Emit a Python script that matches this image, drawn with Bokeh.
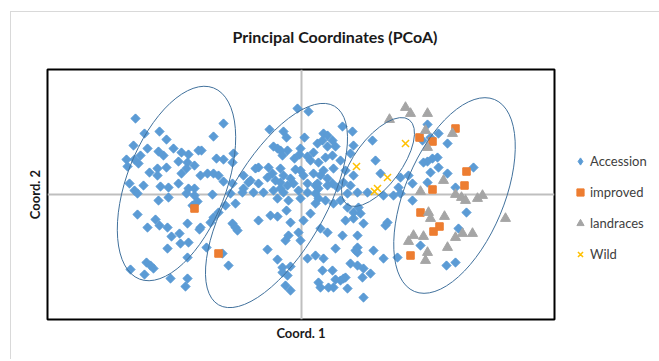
from bokeh.plotting import figure
from bokeh.models import Span, Legend, LegendItem, ColumnDataSource
from bokeh.embed import file_html
from bokeh.resources import INLINE
import math

# ---- data (Coord. 1, Coord. 2) ----
acc_x = [-1.66,-1.57,-1.42,-1.35,-1.68,-1.54,-1.28,-1.20,-1.13,-1.03,-1.75,-1.67,-1.61,-1.63,-1.74,-1.43,-1.38,-1.23,-1.14,-1.07,
         -1.15,-1.44,-1.52,-1.35,-1.44,-1.20,-1.01,-1.72,-1.58,-1.41,-1.33,-1.23,-1.13,-0.94,
         -1.67,-1.64,-1.33,-1.15,-1.07,-1.07,-1.04,-1.09,-1.43,-1.64,-1.46,-1.54,-1.42,-1.34,-1.14,-1.01,-1.02,-1.22,-1.30,-1.21,
         -1.13,-1.34,-0.95,-1.14,-1.55,-1.51,-1.48,-1.71,-1.57,-1.31,-1.14,-1.16,
         -0.78,-0.88,-0.04,0.07,-0.32,-0.18,-0.15,0.03,0.41,0.51,0.22,0.26,0.21,0.31,0.34,0.26,0.16,0.12,-0.28,-0.21,-0.14,-0.24,
         -0.19,-0.01,-0.02,-0.07,0.06,0.09,0.17,0.24,0.31,0.52,0.49,0.39,0.44,0.32,-0.85,-0.78,-0.68,-0.69,-0.88,-0.83,-0.78,-1.00,
         -0.43,-0.46,-0.33,-0.29,-0.21,-0.18,-0.11,-0.06,-0.01,0.02,0.12,0.19,0.22,0.26,-0.58,-0.51,-0.34,-0.26,-0.14,0.06,0.14,
         0.31,0.17,-0.21,-0.58,-0.43,
         -0.69,-0.53,-0.21,-0.08,0.16,0.26,0.36,-0.89,-0.71,-0.59,-0.48,-0.38,-0.28,-0.18,-0.03,0.06,0.14,0.17,0.14,0.24,0.32,
         -0.24,-0.13,-0.01,-0.66,-0.76,-0.83,-0.88,-0.91,-0.31,-0.24,-0.15,-0.43,-0.11,0.02,0.09,-0.69,-0.66,-0.64,-0.03,0.19,
         0.26,-0.13,-0.16,-0.01,0.41,0.44,0.52,0.59,0.62,-0.79,-0.73,-0.34,-0.24,-0.19,-0.11,-0.19,-0.14,-0.16,-0.11,0.06,0.14,
         0.22,0.34,0.56,0.49,0.56,0.62,0.21,0.31,0.34,0.39,0.44,0.27,0.17,0.19,0.32,0.46,0.61,0.62,0.56,
         0.71,0.74,0.52,0.79,0.99,1.07,1.26,1.21,1.29,1.37,1.46,1.36,1.31,1.26,1.22,1.37,1.29,1.26,1.46,1.72,1.54,0.97,1.11,
         0.42,0.49,
         0.46,0.56,0.66,0.82,0.92,0.99,1.11,1.65,1.57,1.19,1.45,1.54,0.39,0.46,0.52,0.57,0.56,0.86,0.84,0.54,0.72,0.82,0.96,
         0.42,0.69]
acc_y = [0.76,0.61,0.63,0.55,0.49,0.46,0.46,0.42,0.40,0.44,0.35,0.35,0.39,0.31,0.28,0.43,0.39,0.33,0.32,0.29,
         0.26,0.26,0.22,0.27,0.19,0.21,0.19,0.11,0.09,0.08,0.07,0.11,0.06,0.21,
         0.04,0.01,-0.03,0.01,0.06,-0.01,-0.07,-0.11,-0.06,-0.20,-0.25,-0.33,-0.31,-0.33,-0.29,-0.33,-0.35,-0.39,-0.42,-0.49,
         -0.48,-0.54,-0.53,-0.63,-0.68,-0.71,-0.74,-0.75,-0.80,-0.84,-0.84,-0.92,
         0.71,0.58,0.86,0.83,0.65,0.63,0.57,0.57,0.68,0.63,0.61,0.59,0.54,0.54,0.48,0.48,0.51,0.42,0.48,0.44,0.44,0.46,
         0.39,0.46,0.40,0.36,0.38,0.34,0.32,0.37,0.39,0.49,0.41,0.34,0.24,0.26,0.36,0.35,0.41,0.32,0.21,0.19,0.13,0.44,
         0.27,0.26,0.27,0.21,0.26,0.19,0.16,0.25,0.24,0.19,0.21,0.19,0.24,0.16,0.19,0.14,0.17,0.14,0.09,0.11,0.09,
         0.11,0.06,0.06,0.06,0.11,
         0.11,0.12,0.12,0.11,0.11,0.09,0.07,0.00,0.01,0.02,0.02,0.02,0.04,0.02,0.04,0.02,0.01,-0.04,-0.09,-0.06,-0.09,
         -0.04,-0.06,-0.04,-0.09,-0.11,-0.18,-0.23,-0.28,-0.21,-0.22,-0.16,-0.26,-0.28,-0.26,-0.19,-0.29,-0.33,-0.36,-0.38,-0.34,
         -0.38,-0.41,-0.46,-0.46,-0.41,-0.26,-0.24,-0.19,-0.29,-0.59,-0.71,-0.55,-0.65,-0.73,-0.72,-0.78,-0.81,-0.91,-0.96,-0.64,-0.61,
         -0.64,-0.54,-0.58,-0.69,-0.71,-0.74,-0.76,-0.76,-0.85,-0.86,-0.83,-0.93,-0.88,-0.93,-0.93,-0.94,-0.83,-1.03,-0.53,
         0.54,0.34,0.19,0.21,0.17,0.19,0.70,0.54,0.57,0.61,0.51,0.37,0.36,0.33,0.32,0.27,0.22,0.12,0.21,0.27,0.07,0.07,0.11,
         0.12,0.09,
         0.01,0.02,0.02,-0.01,-0.01,0.01,-0.06,-0.18,-0.34,-0.51,-0.71,-0.68,-0.06,-0.13,-0.18,-0.13,-0.41,-0.28,-0.31,-0.56,-0.56,-0.64,-0.63,
         -0.84,-0.79]

imp_x = [-1.07,-0.83,1.54,1.18,1.31,1.65,1.63,1.31,1.19,1.38,1.32,1.09]
imp_y = [-0.14,-0.59,0.66,0.57,0.53,0.23,0.09,0.05,-0.18,-0.32,-0.37,-0.61]

land_x = [1.04,1.09,0.88,1.26,1.24,1.51,1.26,1.42,1.19,1.54,1.60,1.64,1.76,1.81,1.27,1.29,1.43,1.12,1.07,1.22,
          1.61,1.71,1.54,1.46,1.26,1.24,2.04]
land_y = [0.87,0.81,0.75,0.81,0.64,0.61,0.47,0.14,0.03,0.00,-0.03,-0.06,-0.04,-0.01,-0.18,-0.24,-0.22,-0.41,-0.47,-0.42,
          -0.39,-0.39,-0.43,-0.53,-0.58,-0.66,-0.24]

wild_x = [1.04,0.55,0.86,0.76,0.73]
wild_y = [0.51,0.28,0.17,0.06,0.03]

# group ellipses: centre x, centre y, width, height, angle (deg)
ell_cx = [-1.25, -0.25, 0.765, 1.53]
ell_cy = [0.11, -0.11, 0.325, -0.01]
ell_w = [2.05, 2.30, 1.05, 2.08]
ell_h = [0.99, 0.95, 0.47, 0.99]
ell_ang = [68.8, 59.7, 53.5, 67.3]

series_names = ["Accession", "improved", "landraces", "Wild"]
title_text = "Principal Coordinates (PCoA)"
x_title = "Coord. 1"
y_title = "Coord. 2"

FONT = "Lato"
BLUE, ORANGE, GREY, YELLOW = "#5b9bd5", "#ed7d31", "#a5a5a5", "#ffc000"

p = figure(frame_width=507, frame_height=250, output_backend="svg", toolbar_location=None,
           x_range=(-2.54, 2.53), y_range=(-1.25, 1.25),
           min_border_left=47, min_border_right=97, min_border_top=69, min_border_bottom=40,
           title=title_text)
# light grey chart-area edge (top and left) painted behind a transparent border area
p.styles = {"background": ("linear-gradient(#d9d9d9, #d9d9d9) 10px 11px / 100% 1px no-repeat, "
                           "linear-gradient(#d9d9d9, #d9d9d9) 10px 11px / 1px 100% no-repeat, white")}
p.grid.visible = False
p.outline_line_color = "#000000"
p.outline_line_width = 2
p.background_fill_color = "white"
p.border_fill_alpha = 0

p.title.align = "left"
p.title.offset = 185
p.title.standoff = 48
p.title.text_font = FONT
p.title.text_font_style = "bold"
p.title.text_font_size = "16px"
p.title.text_color = "#1a1a1a"

for ax, lab in ((p.xaxis, x_title), (p.yaxis, y_title)):
    ax.ticker = []
    ax.axis_line_color = None
    ax.major_tick_in = 0
    ax.major_tick_out = 0
    ax.minor_tick_in = 0
    ax.minor_tick_out = 0
    ax.major_label_standoff = 0
    ax.axis_label = lab
    ax.axis_label_standoff = 5
    ax.axis_label_text_font = FONT
    ax.axis_label_text_font_style = "bold"
    ax.axis_label_text_font_size = "13px"
    ax.axis_label_text_color = "#1a1a1a"

p.add_layout(Span(location=0, dimension="width", line_color="#bfbfbf", line_width=2, level="underlay"))
p.add_layout(Span(location=0, dimension="height", line_color="#bfbfbf", line_width=2, level="underlay"))

acc_src = ColumnDataSource(data=dict(x=acc_x, y=acc_y))
# diamond glyph used for the legend key; it sits fully under the rotated squares below
r_acc_key = p.scatter("x", "y", source=acc_src, marker="diamond", size=8,
                      fill_color=BLUE, line_color=BLUE)
r_acc = p.scatter("x", "y", source=acc_src, marker="square", angle=math.pi / 4, size=6.5,
                  fill_color=BLUE, line_color=BLUE)
r_imp = p.scatter(imp_x, imp_y, marker="square", size=7.5,
                  fill_color=ORANGE, line_color=ORANGE)
r_land = p.scatter(land_x, land_y, marker="triangle", size=10,
                   fill_color=GREY, line_color=GREY)
r_wild = p.scatter(wild_x, wild_y, marker="x", size=10,
                   line_color=YELLOW, line_width=1.5)

p.ellipse(x=ell_cx, y=ell_cy, width=ell_w, height=ell_h,
          angle=[math.radians(a) for a in ell_ang],
          fill_color=None, line_color="#41719c", line_width=1)

legend = Legend(items=[LegendItem(label=series_names[0], renderers=[r_acc_key]),
                       LegendItem(label=series_names[1], renderers=[r_imp]),
                       LegendItem(label=series_names[2], renderers=[r_land]),
                       LegendItem(label=series_names[3], renderers=[r_wild])],
                location=(17, 55), orientation="vertical",
                glyph_width=18, glyph_height=18, label_standoff=1,
                label_height=20, spacing=11, padding=0, margin=0,
                border_line_color=None, background_fill_alpha=0,
                label_text_font=FONT, label_text_font_size="13px", label_text_color="#404040")
p.add_layout(legend, "right")

open("out.html", "w").write(file_html(p, INLINE))
